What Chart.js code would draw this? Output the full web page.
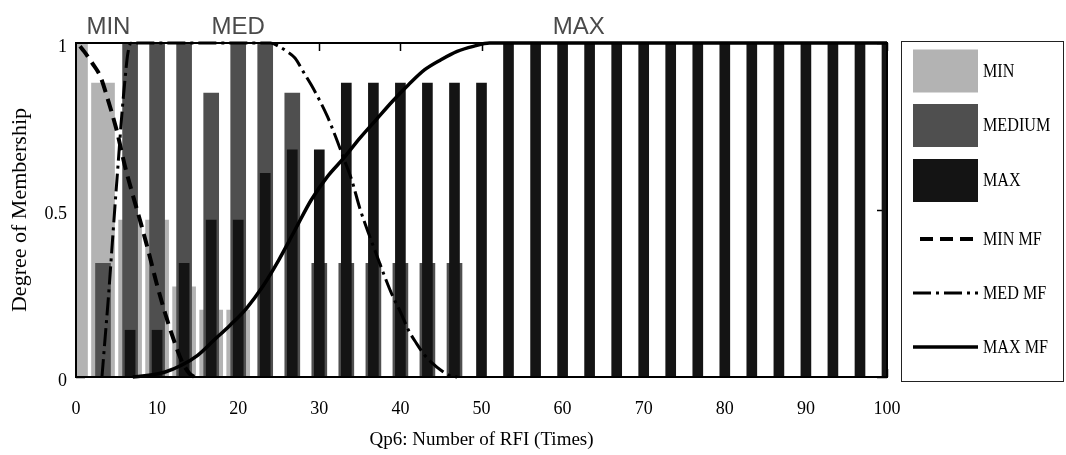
<!DOCTYPE html>
<html>
<head>
<meta charset="utf-8">
<script src="https://cdn.jsdelivr.net/npm/chart.js@4.4.1/dist/chart.umd.min.js"></script>
<style>
  html, body { margin: 0; padding: 0; background: #fff; }
  canvas { display: block; }
</style>
</head>
<body>
<canvas id="chart" width="1066" height="455"></canvas>
<script>
// Qp6 – membership of each RFI count in the MIN / MEDIUM / MAX classes,
// shown as overlapping bars, with the three membership functions on top.

// bar positions (number of RFI, times)
const rfiCounts = [0, 3.33, 6.67, 10, 13.33, 16.67, 20, 23.33, 26.67, 30,
  33.33, 36.67, 40, 43.33, 46.67, 50, 53.33, 56.67, 60, 63.33,
  66.67, 70, 73.33, 76.67, 80, 83.33, 86.67, 90, 93.33, 96.67, 100];

// degree of membership per class at each position
const minBars = [1.0, 0.88, 0.47, 0.47, 0.27, 0.2, 0.2, 0, 0, 0,
  0, 0, 0, 0, 0, 0, 0, 0, 0, 0,
  0, 0, 0, 0, 0, 0, 0, 0, 0, 0, 0];
const mediumBars = [0, 0.34, 1.0, 1.0, 1.0, 0.85, 1.0, 1.0, 0.85, 0.34,
  0.34, 0.34, 0.34, 0.34, 0.34, 0, 0, 0, 0, 0,
  0, 0, 0, 0, 0, 0, 0, 0, 0, 0, 0];
const maxBars = [0, 0, 0.14, 0.14, 0.34, 0.47, 0.47, 0.61, 0.68, 0.68,
  0.88, 0.88, 0.88, 0.88, 0.88, 0.88, 1.0, 1.0, 1.0, 1.0,
  1.0, 1.0, 1.0, 1.0, 1.0, 1.0, 1.0, 1.0, 1.0, 1.0, 1.0];

// membership function curves
const minMfX = [0.5, 1, 2, 3, 4, 5, 6, 7, 8, 9, 10, 11, 12, 13, 14, 14.6];
const minMfY = [0.99, 0.975, 0.94, 0.9, 0.825, 0.74, 0.635, 0.545, 0.46, 0.37, 0.275, 0.19, 0.115, 0.05, 0.01, 0];

const medMfX = [3.2, 3.6, 4.0, 4.4, 4.8, 5.2, 5.6, 6.0, 6.4, 6.8, 23, 24, 25, 26, 27, 28, 29, 30,
  31, 32, 33, 34, 35, 36, 37, 38, 39, 40, 41, 42, 43, 44, 45, 46, 47];
const medMfY = [0, 0.12, 0.24, 0.375, 0.51, 0.64, 0.77, 0.88, 0.97, 1.0, 1.0, 1.0, 0.99, 0.975, 0.955, 0.915, 0.875, 0.83,
  0.78, 0.72, 0.655, 0.59, 0.505, 0.435, 0.37, 0.305, 0.245, 0.195, 0.14, 0.1, 0.065, 0.04, 0.02, 0.005, 0];

const maxMfX = [7, 9, 11, 13, 15, 17, 19, 21, 23, 25, 27, 29, 31, 33, 35, 37, 39, 41, 43, 45, 47, 49, 51, 100];
const maxMfY = [0, 0.005, 0.015, 0.035, 0.065, 0.11, 0.155, 0.205, 0.27, 0.35, 0.44, 0.53, 0.6, 0.655,
  0.715, 0.77, 0.825, 0.875, 0.92, 0.95, 0.975, 0.99, 1.0, 1.0];

// class names written above the plot, and where along the axis they sit
const classNames = ['MIN', 'MED', 'MAX'];
const classNameAt = [4, 20, 62];

const yTickLabels = { 0: '0', 0.5: '0.5', 1: '1' };

const toPoints = (xs, ys) => xs.map((x, i) => ({ x, y: ys[i] }));

const serif = "'Liberation Serif', 'Times New Roman', serif";
Chart.defaults.font.family = serif;
Chart.defaults.color = '#000';

// inward tick marks under the data, box frame over it
const framePlugin = {
  id: 'axesFrame',
  beforeDatasetsDraw(chart) {
    const { ctx, chartArea: a, scales: { x, y } } = chart;
    ctx.save();
    ctx.strokeStyle = '#000';
    ctx.lineWidth = 1.5;
    ctx.beginPath();
    x.ticks.forEach(t => {
      const px = Math.round(x.getPixelForValue(t.value)) + 0.5;
      ctx.moveTo(px, a.top); ctx.lineTo(px, a.top + 8);
      ctx.moveTo(px, a.bottom); ctx.lineTo(px, a.bottom - 8);
    });
    y.ticks.forEach(t => {
      const py = Math.round(y.getPixelForValue(t.value)) + 0.5;
      ctx.moveTo(a.left, py); ctx.lineTo(a.left + 9, py);
      ctx.moveTo(a.right, py); ctx.lineTo(a.right - 10, py);
    });
    ctx.stroke();
    ctx.restore();
  },
  afterDatasetsDraw(chart) {
    const { ctx, chartArea: a } = chart;
    ctx.save();
    ctx.strokeStyle = '#000';
    ctx.lineWidth = 2;
    ctx.strokeRect(a.left, a.top, a.right - a.left, a.bottom - a.top);
    ctx.restore();
  }
};

// MIN / MED / MAX headings above the plot
const headingPlugin = {
  id: 'classHeadings',
  afterDraw(chart) {
    const { ctx, chartArea: a, scales: { x } } = chart;
    ctx.save();
    ctx.font = "24px 'Liberation Sans', Arial, sans-serif";
    ctx.fillStyle = '#4a4a4a';
    ctx.textAlign = 'center';
    ctx.textBaseline = 'middle';
    classNames.forEach((name, i) => {
      ctx.fillText(name, x.getPixelForValue(classNameAt[i]), a.top - 16);
    });
    ctx.restore();
  }
};

// boxed legend to the right of the plot
const sideLegendPlugin = {
  id: 'sideLegend',
  afterDraw(chart) {
    const ctx = chart.ctx;
    const box = { left: 901.5, top: 41.5, right: 1063.5, bottom: 381.5 };
    const rows = [71, 125.5, 180.5, 239, 293, 347];
    const keyLeft = 913, keyRight = 978, textLeft = 983;
    ctx.save();
    ctx.strokeStyle = '#222';
    ctx.lineWidth = 1;
    ctx.strokeRect(box.left, box.top, box.right - box.left, box.bottom - box.top);
    chart.data.datasets.forEach((ds, i) => {
      const cy = rows[i];
      if (ds.type === 'line') {
        ctx.save();
        ctx.strokeStyle = ds.borderColor;
        ctx.lineWidth = ds.borderWidth;
        ctx.setLineDash(ds.borderDash || []);
        ctx.lineDashOffset = ds.legendDashOffset || 0;
        ctx.beginPath();
        ctx.moveTo(keyLeft, cy);
        ctx.lineTo(keyRight, cy);
        ctx.stroke();
        ctx.restore();
      } else {
        ctx.fillStyle = ds.backgroundColor;
        ctx.fillRect(keyLeft, cy - 21.5, keyRight - keyLeft, 43);
      }
      ctx.save();
      ctx.translate(textLeft, cy);
      ctx.scale(0.85, 1);
      ctx.font = "19px " + serif;
      ctx.fillStyle = '#000';
      ctx.textAlign = 'left';
      ctx.textBaseline = 'middle';
      ctx.fillText(ds.label, 0, 1);
      ctx.restore();
    });
    ctx.restore();
  }
};

const barSet = (label, values, color, thickness, order) => ({
  type: 'bar',
  label,
  data: toPoints(rfiCounts, values),
  backgroundColor: color,
  borderWidth: 0,
  barThickness: thickness,
  grouped: false,
  clip: 0,
  order
});

const lineSet = (label, xs, ys, width, dash, dashOffset) => ({
  type: 'line',
  label,
  data: toPoints(xs, ys),
  borderColor: '#000',
  borderWidth: width,
  borderDash: dash,
  legendDashOffset: dashOffset,
  pointRadius: 0,
  fill: false,
  cubicInterpolationMode: 'monotone',
  clip: 4,
  order: 0
});

new Chart(document.getElementById('chart'), {
  type: 'bar',
  data: {
    datasets: [
      barSet('MIN', minBars, '#b3b3b3', 23, 3),
      barSet('MEDIUM', mediumBars, '#4f4f4f', 15, 2),
      barSet('MAX', maxBars, '#141414', 10, 1),
      lineSet('MIN MF', minMfX, minMfY, 4, [13, 7], 13),
      lineSet('MED MF', medMfX, medMfY, 3, [18, 5, 3, 5], 0),
      lineSet('MAX MF', maxMfX, maxMfY, 3.5, [], 0)
    ]
  },
  options: {
    responsive: false,
    animation: false,
    events: [],
    layout: { padding: { left: 0, right: 179, top: 43, bottom: 0 } },
    plugins: { legend: { display: false }, tooltip: { enabled: false } },
    scales: {
      x: {
        type: 'linear',
        min: 0,
        max: 100,
        offset: false,
        grid: { display: false, drawTicks: false },
        border: { display: false },
        ticks: {
          stepSize: 10,
          autoSkip: false,
          maxRotation: 0,
          padding: 21,
          color: '#000',
          font: { size: 18, family: serif }
        },
        title: {
          display: true,
          text: 'Qp6: Number of RFI (Times)',
          color: '#000',
          font: { size: 19, family: serif },
          padding: { top: 0, bottom: 4 }
        },
        afterFit(scale) {
          scale.height = 78;
          scale.paddingLeft = 0;
          scale.paddingRight = 0;
        }
      },
      y: {
        min: 0,
        max: 1,
        grid: { display: false, drawTicks: false },
        border: { display: false },
        ticks: {
          stepSize: 0.5,
          padding: 9,
          labelOffset: 4,
          color: '#000',
          font: { size: 18, family: serif },
          callback: v => yTickLabels[v] ?? ''
        },
        title: {
          display: true,
          text: 'Degree of Membership',
          color: '#000',
          font: { size: 22, family: serif },
          padding: { top: 7, bottom: 0 }
        },
        afterFit(scale) {
          scale.width = 76;
          scale.paddingTop = 0;
          scale.paddingBottom = 0;
        }
      }
    }
  },
  plugins: [framePlugin, headingPlugin, sideLegendPlugin]
});
</script>
</body>
</html>
